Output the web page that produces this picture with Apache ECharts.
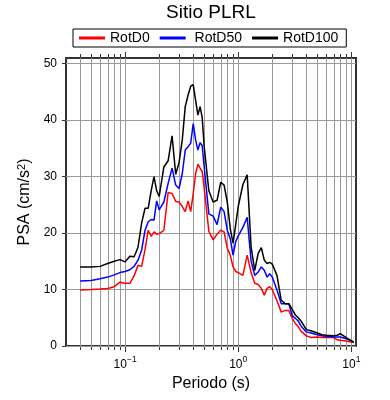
<!DOCTYPE html>
<html><head><meta charset="utf-8">
<script src="https://cdn.jsdelivr.net/npm/echarts@6/dist/echarts.min.js"></script>
<style>html,body{margin:0;padding:0;background:#fff}#c{width:390px;height:400px}</style>
</head><body><div id="c"></div>
<script>
const periods = [0.04,0.05,0.06,0.07,0.08,0.09,0.1,0.11,0.12,0.13,0.14,0.15,0.16,0.17,0.18,0.19,0.2,0.22,0.24,0.26,0.28,0.3,0.32,0.34,0.36,0.38,0.4,0.42,0.44,0.46,0.48,0.5,0.55,0.6,0.65,0.7,0.75,0.8,0.85,0.9,0.95,1.0,1.1,1.2,1.3,1.4,1.5,1.6,1.7,1.8,1.9,2.0,2.2,2.4,2.6,2.8,3.0,3.2,3.4,3.6,4.0,4.4,5.0,5.5,6.0,7.0,7.5,8.0,9.0,10.5];
const rotD0 = [9.9,10.0,10.1,10.2,10.5,11.3,11.1,11.1,12.4,14.3,14.1,17.1,20.5,19.4,20.2,19.8,19.9,20.5,27.2,27.0,25.6,25.5,24.7,23.8,25.7,23.8,27.0,30.5,32.2,31.5,30.9,28.0,20.3,18.8,19.8,20.5,20.2,17.3,16.1,14.0,13.2,13.0,12.5,16.1,13.0,11.1,10.9,10.2,9.0,10.2,10.5,10.0,8.0,6.0,6.3,6.3,4.9,4.0,3.4,2.6,1.8,1.5,1.6,1.5,1.5,1.5,1.1,1.0,0.9,0.6];
const rotD50 = [11.5,11.6,11.9,12.2,12.6,13.0,13.2,13.5,14.1,15.2,17.0,20.5,22.0,22.4,22.3,25.7,24.1,25.5,28.8,31.5,28.5,27.9,30.5,34.7,35.3,35.9,39.4,36.5,34.7,36.0,35.5,31.7,23.4,23.0,21.5,24.6,23.8,20.5,19.0,16.1,18.5,19.5,21.0,22.8,15.0,12.5,13.1,14.0,13.4,12.2,12.8,12.2,9.9,7.5,7.5,7.5,5.4,4.9,4.4,3.5,2.5,2.3,2.0,1.8,1.7,1.6,1.6,1.6,1.3,0.7];
const rotD100 = [14.0,14.0,14.1,14.6,15.0,15.3,14.9,15.9,15.8,17.5,21.8,24.4,24.4,27.5,30.0,27.5,26.5,31.7,32.8,37.2,30.4,32.5,36.5,42.4,44.4,46.0,46.3,43.5,40.9,42.4,40.5,35.3,27.5,25.5,25.8,29.0,28.5,25.5,20.8,18.2,21.5,24.7,28.6,30.3,17.5,13.4,16.4,17.4,15.2,14.6,14.8,14.5,12.5,8.1,7.5,7.5,6.5,5.5,5.0,4.4,2.9,2.7,2.3,2.0,1.9,1.8,1.9,2.2,1.5,0.7];
const seriesNames = ['RotD0','RotD50','RotD100'];
const gridPeriods = [0.04,0.05,0.06,0.07,0.08,0.09,0.1,0.2,0.3,0.4,0.5,0.6,0.7,0.8,0.9,1,2,3,4,5,6,7,8,9,10];
const yTicks = [0,10,20,30,40,50];
const xMin = 0.03, xMax = 11, yMin = 0, yMax = 51;

const FONT = 'Liberation Sans, Arial, Helvetica, sans-serif';
const chart = echarts.init(document.getElementById('c'), null, {renderer:'canvas'});
const toPairs = arr => periods.map((p,i)=>[p, arr[i]]);
const colors = ['#ff0000','#0000ff','#000000'];
const supMap = {'-1':'\u22121','0':'0','1':'1'};

const option = {
  animation:false,
  backgroundColor:'#ffffff',
  graphic:[{type:'text', x:211, y:3, style:{text:'Sitio PLRL', align:'center', verticalAlign:'top', fontSize:19, fontFamily:FONT, fill:'#000'}}],
  legend:{
    data:seriesNames, left:73, top:29, padding:[2,8,2,6], itemGap:10,
    itemWidth:26, itemHeight:3, icon:'rect',
    borderColor:'#000', borderWidth:1, backgroundColor:'#fff',
    textStyle:{fontSize:14, fontFamily:FONT, color:'#000'},
    formatter: n => n==='RotD50' ? ' '+n : n
  },
  grid:{left:66, right:34, top:58, bottom:54, show:true, borderColor:'#333', borderWidth:2, backgroundColor:'transparent'},
  xAxis:{
    type:'log', logBase:10, min:xMin, max:xMax,
    name:'Periodo (s)', nameLocation:'middle', nameGap:27,
    nameTextStyle:{fontSize:16, fontFamily:FONT, color:'#000'},
    axisLine:{show:false}, axisTick:{show:false}, splitLine:{show:false},
    axisLabel:{
      margin:9, showMinLabel:false, showMaxLabel:false,
      formatter: v => { const l = Math.log10(v); const r = Math.round(l); if (Math.abs(l-r) > 1e-6) return ''; return '{b|10}{s|' + supMap[String(r)] + '}'; },
      rich:{ b:{fontSize:12, fontFamily:FONT, color:'#000', lineHeight:16, verticalAlign:'bottom'}, s:{fontSize:8.5, fontFamily:FONT, color:'#000', lineHeight:9, verticalAlign:'top'} }
    }
  },
  yAxis:{
    type:'value', min:yMin, max:yMax, interval:10,
    name:'PSA (cm/s{s|2})', nameLocation:'middle', nameGap:24, nameRotate:90,
    nameTextStyle:{fontSize:16, fontFamily:FONT, color:'#000', rich:{s:{fontSize:11, fontFamily:FONT, color:'#000', verticalAlign:'top', lineHeight:10}}},
    axisLine:{show:false},
    axisTick:{show:true, length:4, lineStyle:{color:'#333'}, customValues:yTicks},
    axisLabel:{fontSize:12, fontFamily:FONT, color:'#000', margin:9, customValues:yTicks},
    splitLine:{show:true, lineStyle:{color:'#999', width:1}}
  },
  series:[
    {
      type:'custom', name:'grid', silent:true, z:1, clip:false, legendHoverLink:false,
      data: gridPeriods.map(p=>[p, yMin]), encode:{x:0, y:1},
      renderItem:(params, api)=>{
        const p = api.value(0);
        const b = api.coord([p, yMin]); const t = api.coord([p, yMax]);
        const x = Math.round(b[0]) + 0.5;
        const l = Math.log10(p); const major = Math.abs(l - Math.round(l)) < 1e-6;
        const L = major ? 5 : 3;
        return {type:'group', children:[
          {type:'line', shape:{x1:x, y1:b[1], x2:x, y2:t[1]}, style:{stroke:'#999', lineWidth:1}},
          {type:'line', shape:{x1:x, y1:b[1]+1, x2:x, y2:b[1]+1+L}, style:{stroke:'#333', lineWidth:1}},
          {type:'line', shape:{x1:x, y1:t[1]-1, x2:x, y2:t[1]-1-L}, style:{stroke:'#333', lineWidth:1}}
        ]};
      }
    },
    ...[rotD0, rotD50, rotD100].map((arr, i)=>({
      type:'line', name:seriesNames[i], data:toPairs(arr), showSymbol:false, symbol:'none', z:3,
      lineStyle:{color:colors[i], width:1.5}, itemStyle:{color:colors[i]}
    }))
  ]
};
chart.setOption(option);
</script></body></html>
